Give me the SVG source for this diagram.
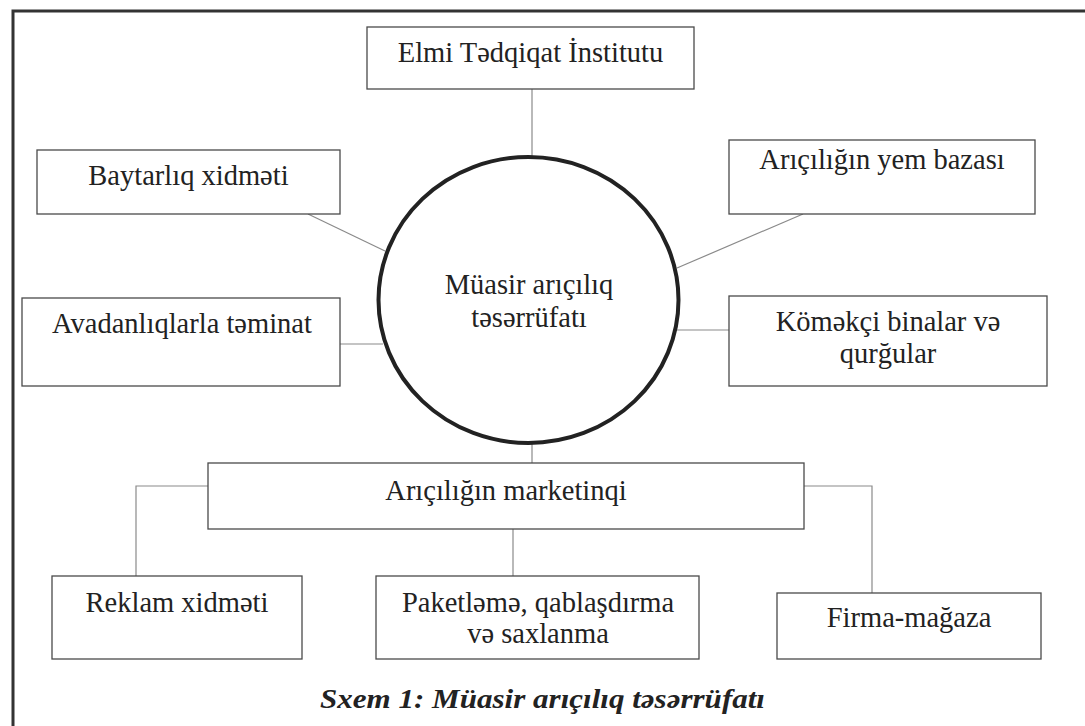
<svg xmlns="http://www.w3.org/2000/svg" width="1085" height="726" viewBox="0 0 1085 726">
<style>
.box{fill:#fff;stroke:#4a4a4a;stroke-width:1.3}
.t{font-family:"Liberation Serif","Times New Roman",serif;font-size:28.5px;fill:#222;text-anchor:middle}
.c{fill:none;stroke:#8a8a8a;stroke-width:1.2}
.cap{font-family:"Liberation Serif","Times New Roman",serif;font-size:28px;font-style:italic;font-weight:bold;fill:#222;text-anchor:middle}
</style>
<rect width="1085" height="726" fill="#fff"/>
<path d="M13,730 V11 H1090" fill="none" stroke="#333" stroke-width="3"/>
<g id="connectors">
<line class="c" x1="532" y1="89" x2="532" y2="157"/>
<line class="c" x1="308" y1="214" x2="385" y2="251"/>
<line class="c" x1="340" y1="344" x2="383" y2="344"/>
<line class="c" x1="803" y1="214" x2="677" y2="268"/>
<line class="c" x1="677" y1="330" x2="729" y2="330"/>
<line class="c" x1="532" y1="443" x2="532" y2="463"/>
<polyline class="c" points="208,486 136,486 136,576"/>
<polyline class="c" points="804,486 872,486 872,593"/>
<line class="c" x1="513" y1="529" x2="513" y2="576"/>
</g>
<g id="center">
<ellipse cx="528.5" cy="300" rx="150" ry="143" fill="#fff" stroke="#222" stroke-width="4"/>
<text class="t" x="529" y="294">Müasir arıçılıq</text>
<text class="t" x="529" y="327">təsərrüfatı</text>
</g>
<g id="elmi">
<rect class="box" x="367" y="27" width="327" height="62"/>
<text class="t" x="530.5" y="62">Elmi Tədqiqat İnstitutu</text>
</g>
<g id="baytarliq">
<rect class="box" x="37" y="150" width="303" height="64"/>
<text class="t" x="188.5" y="185">Baytarlıq xidməti</text>
</g>
<g id="yem">
<rect class="box" x="729" y="140" width="306" height="74"/>
<text class="t" x="882" y="169">Arıçılığın yem bazası</text>
</g>
<g id="avadanliq">
<rect class="box" x="22" y="298" width="318" height="88"/>
<text class="t" x="182" y="333">Avadanlıqlarla təminat</text>
</g>
<g id="komekci">
<rect class="box" x="729" y="296" width="318" height="90"/>
<text class="t" x="888" y="331">Köməkçi binalar və</text>
<text class="t" x="888" y="363">qurğular</text>
</g>
<g id="marketinq">
<rect class="box" x="208" y="463" width="596" height="66"/>
<text class="t" x="506" y="500">Arıçılığın marketinqi</text>
</g>
<g id="reklam">
<rect class="box" x="52" y="576" width="250" height="83"/>
<text class="t" x="177" y="612">Reklam xidməti</text>
</g>
<g id="paket">
<rect class="box" x="376" y="576" width="323" height="83"/>
<text class="t" x="538" y="612">Paketləmə, qablaşdırma</text>
<text class="t" x="538" y="643">və saxlanma</text>
</g>
<g id="firma">
<rect class="box" x="777" y="593" width="264" height="66"/>
<text class="t" x="909" y="627">Firma-mağaza</text>
</g>
<text class="cap" x="542.5" y="708" textLength="445" lengthAdjust="spacingAndGlyphs">Sxem 1: Müasir arıçılıq təsərrüfatı</text>
</svg>
